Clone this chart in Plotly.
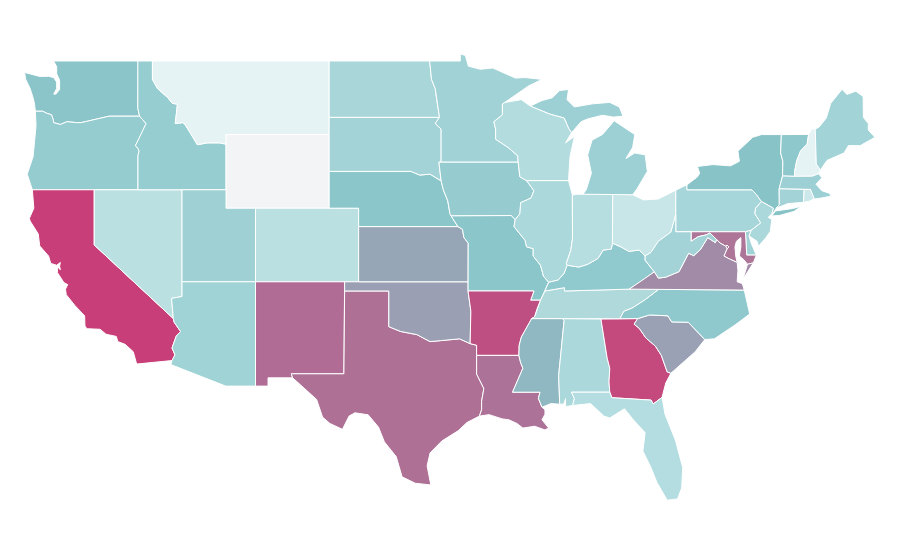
import plotly.graph_objects as go

# no topojson offline, so the state outlines are kept here as (lon, lat) lists
WA = [(-117.03,49),(-122.76,49),(-122.55,48.7),(-122.55,48.3),(-122.35,47.95),(-122.35,47.45),(-122.6,47.2),(-122.75,47.2),(-122.55,47.5),(-122.55,47.85),(-122.75,48.1),(-123.1,48.17),(-123.7,48.16),(-124.1,48.23),(-124.73,48.38),(-124.65,48),(-124.35,47.5),(-124.15,47),(-124.05,46.65),(-124,46.27),(-123.5,46.27),(-123.2,46.15),(-122.9,46.08),(-122.8,45.85),(-122.75,45.65),(-122.3,45.55),(-121.85,45.7),(-121.2,45.65),(-120.9,45.65),(-120.5,45.72),(-119.95,45.82),(-119.3,45.93),(-119,46),(-116.92,46),(-117.04,46.42)]
OR = [(-124,46.27),(-123.5,46.27),(-123.2,46.15),(-122.9,46.08),(-122.8,45.85),(-122.75,45.65),(-122.3,45.55),(-121.85,45.7),(-121.2,45.65),(-120.9,45.65),(-120.5,45.72),(-119.95,45.82),(-119.3,45.93),(-119,46),(-116.92,46),(-116.48,45.6),(-116.85,44.95),(-117.2,44.4),(-117.03,44.25),(-116.95,44.1),(-117.03,43.85),(-117.03,42),(-124.2,42),(-124.4,42.5),(-124.55,42.85),(-124.15,43.8),(-124.07,44.7),(-123.95,45.5)]
CA = [(-124.2,42),(-120,42),(-120,39),(-114.63,35),(-114.57,34.8),(-114.14,34.3),(-114.43,34.05),(-114.72,33.4),(-114.52,33.03),(-114.72,32.72),(-117.12,32.53),(-117.25,32.85),(-117.35,33.2),(-117.9,33.6),(-118.4,33.75),(-118.5,34.03),(-119.2,34.15),(-119.6,34.42),(-120.5,34.45),(-120.63,34.6),(-120.65,35.15),(-121.3,35.7),(-121.9,36.3),(-121.95,36.6),(-121.8,36.85),(-122.05,36.95),(-122.5,37.5),(-122.5,37.82),(-122.3,37.65),(-122.35,37.85),(-122.3,38.05),(-122.55,37.9),(-122.95,38),(-123.1,38.4),(-123.7,38.95),(-123.8,39.6),(-124.35,40.3),(-124.4,40.45),(-124.1,41)]
NV = [(-120,42),(-114.04,42),(-114.04,36.2),(-114.75,36.1),(-114.63,35),(-120,39)]
ID = [(-117.04,49),(-116.05,49),(-116.05,48),(-115.7,47.5),(-115,47),(-114.7,46.7),(-114.35,46.65),(-114.5,45.6),(-114,45.65),(-113.8,45.5),(-113.45,45.05),(-113,44.45),(-112.3,44.55),(-111.5,44.55),(-111.05,44.48),(-111.05,42),(-117.03,42),(-117.03,43.85),(-116.95,44.1),(-117.03,44.25),(-117.2,44.4),(-116.85,44.95),(-116.48,45.6),(-116.92,46),(-117.04,46.42)]
MT = [(-116.05,49),(-104.05,49),(-104.05,45),(-111.05,45),(-111.05,44.48),(-111.5,44.55),(-112.3,44.55),(-113,44.45),(-113.45,45.05),(-113.8,45.5),(-114,45.65),(-114.5,45.6),(-114.35,46.65),(-114.7,46.7),(-115,47),(-115.7,47.5),(-116.05,48)]
WY = [(-111.05,45),(-104.05,45),(-104.05,41),(-111.05,41)]
UT = [(-114.04,42),(-111.05,42),(-111.05,41),(-109.05,41),(-109.05,37),(-114.04,37)]
CO = [(-109.05,41),(-102.05,41),(-102.05,37),(-109.05,37)]
AZ = [(-114.04,37),(-109.05,37),(-109.05,31.33),(-111.07,31.33),(-114.8,32.5),(-114.72,32.72),(-114.52,33.03),(-114.72,33.4),(-114.43,34.05),(-114.14,34.3),(-114.57,34.8),(-114.63,35),(-114.75,36.1),(-114.04,36.2)]
NM = [(-109.05,37),(-103,37),(-103.05,32),(-106.62,32),(-106.53,31.78),(-108.2,31.78),(-108.2,31.33),(-109.05,31.33)]
TX = [(-103,36.5),(-100,36.5),(-100,34.56),(-99.2,34.3),(-98.1,34.13),(-97.2,33.75),(-96.5,33.8),(-95.2,33.9),(-94.48,33.64),(-94.04,33.55),(-94.04,33),(-94.04,31.99),(-93.55,31.2),(-93.7,30.5),(-93.7,30.05),(-93.85,29.7),(-94.7,29.35),(-95.3,28.9),(-96.4,28.35),(-97.2,27.7),(-97.4,27),(-97.15,25.96),(-98.2,26.05),(-99.1,26.4),(-99.5,27.5),(-100.3,28.3),(-100.7,29.1),(-101.4,29.77),(-102.3,29.88),(-102.7,29.7),(-103.15,28.98),(-104,29.3),(-104.5,29.65),(-104.9,30.6),(-106,31.4),(-106.53,31.78),(-106.62,32),(-103.05,32)]
OK = [(-103,37),(-94.62,37),(-94.62,36.5),(-94.43,35.4),(-94.48,33.64),(-95.2,33.9),(-96.5,33.8),(-97.2,33.75),(-98.1,34.13),(-99.2,34.3),(-100,34.56),(-100,36.5),(-103,36.5)]
KS = [(-102.05,40),(-95.31,40),(-95,39.85),(-94.9,39.4),(-94.61,39.1),(-94.62,37),(-102.05,37)]
NE = [(-104.05,43),(-98.5,43),(-97.9,42.8),(-97.2,42.85),(-96.7,42.6),(-96.45,42.49),(-96.3,42),(-96,41.4),(-95.85,40.7),(-95.77,40.58),(-95.31,40),(-102.05,40),(-102.05,41),(-104.05,41)]
SD = [(-104.05,45.94),(-96.56,45.94),(-96.85,45.6),(-96.45,45.3),(-96.45,43.5),(-96.6,43.5),(-96.45,42.49),(-96.7,42.6),(-97.2,42.85),(-97.9,42.8),(-98.5,43),(-104.05,43)]
ND = [(-104.05,49),(-97.23,49),(-97.1,48),(-96.85,47.5),(-96.75,46.9),(-96.56,45.94),(-104.05,45.94)]
MN = [(-97.23,49),(-95.15,49),(-95.15,49.38),(-94.8,49.3),(-94.6,48.72),(-93.8,48.55),(-92.95,48.62),(-92,48.3),(-91.4,48.07),(-90.75,48.1),(-89.6,48),(-90.5,47.65),(-91.5,47.1),(-92.1,46.75),(-92.29,46.66),(-92.29,46.07),(-92.87,45.7),(-92.75,45.3),(-92.75,44.75),(-91.9,44.3),(-91.25,43.85),(-91.22,43.5),(-96.45,43.5),(-96.45,45.3),(-96.85,45.6),(-96.56,45.94),(-96.75,46.9),(-96.85,47.5),(-97.1,48)]
IA = [(-96.45,43.5),(-91.22,43.5),(-91.1,42.7),(-90.65,42.5),(-90.15,41.95),(-90.35,41.55),(-91.05,41.3),(-91.1,40.7),(-91.42,40.38),(-91.7,40.6),(-95.77,40.58),(-95.85,40.7),(-96,41.4),(-96.3,42),(-96.45,42.49),(-96.6,43.5)]
MO = [(-95.77,40.58),(-91.7,40.6),(-91.42,40.38),(-91.5,40),(-90.75,39.25),(-90.65,38.9),(-90.2,38.8),(-90.2,38.4),(-89.7,37.9),(-89.5,37.3),(-89.15,36.98),(-89.4,36.5),(-89.7,36),(-90.37,36),(-90.15,36.5),(-94.62,36.5),(-94.62,37),(-94.61,39.1),(-94.9,39.4),(-95,39.85),(-95.31,40)]
AR = [(-94.62,36.5),(-90.15,36.5),(-90.37,36),(-89.7,36),(-89.95,35.5),(-90.1,35.1),(-90.3,35),(-90.6,34.6),(-91,34),(-91.15,33.55),(-91.17,33),(-94.04,33),(-94.04,33.55),(-94.48,33.64),(-94.43,35.4)]
LA = [(-94.04,33),(-91.17,33),(-91.05,32.6),(-90.9,32.3),(-91.6,31),(-89.73,31),(-89.85,30.67),(-89.6,30.18),(-89.4,30.05),(-89.4,29.8),(-89.6,29.5),(-89.15,29.05),(-89.4,28.95),(-90.1,29.15),(-90.9,29.05),(-91.3,29.3),(-91.85,29.5),(-92.3,29.55),(-93.2,29.78),(-93.85,29.7),(-93.7,30.05),(-93.7,30.5),(-93.55,31.2),(-94.04,31.99)]
MS = [(-90.3,35),(-88.2,35),(-88.1,34.9),(-88.47,31.9),(-88.4,30.35),(-89,30.38),(-89.6,30.18),(-89.85,30.67),(-89.73,31),(-91.6,31),(-90.9,32.3),(-91.05,32.6),(-91.17,33),(-91.15,33.55),(-91,34),(-90.6,34.6)]
AL = [(-88.2,35),(-85.6,34.98),(-85.18,32.87),(-85,32.3),(-85.05,31.55),(-85,31),(-87.6,31),(-87.4,30.65),(-87.52,30.28),(-88,30.22),(-88,30.65),(-88.13,30.35),(-88.4,30.35),(-88.47,31.9),(-88.1,34.9)]
GA = [(-85.6,34.98),(-83.1,35),(-83.35,34.7),(-83,34.47),(-82.55,33.95),(-81.9,33.5),(-81.5,33),(-81.1,32.1),(-80.85,32.03),(-81.2,31.5),(-81.45,30.72),(-82.05,30.36),(-82.2,30.57),(-84.86,30.7),(-85,31),(-85.05,31.55),(-85,32.3),(-85.18,32.87)]
FL = [(-87.6,31),(-85,31),(-84.86,30.7),(-82.2,30.57),(-82.05,30.36),(-81.45,30.72),(-81.25,29.8),(-80.55,28.4),(-80.05,26.9),(-80.12,25.8),(-80.4,25.2),(-81.1,25.13),(-81.8,26.1),(-82.2,26.9),(-82.75,27.8),(-82.6,28.8),(-83.4,29.5),(-84,30.1),(-85,29.6),(-85.4,29.7),(-86.3,30.38),(-87.52,30.28),(-87.4,30.65)]
SC = [(-83.1,35),(-82.3,35.2),(-81.05,35.15),(-80.8,34.82),(-79.67,34.8),(-78.55,33.86),(-79.2,33.2),(-79.9,32.7),(-80.85,32.03),(-81.1,32.1),(-81.5,33),(-81.9,33.5),(-82.55,33.95),(-83,34.47),(-83.35,34.7)]
NC = [(-81.68,36.59),(-75.87,36.55),(-75.5,35.25),(-76.5,34.65),(-77.9,33.9),(-78.55,33.86),(-79.67,34.8),(-80.8,34.82),(-81.05,35.15),(-82.3,35.2),(-83.1,35),(-84.32,34.99),(-84.05,35.4),(-83.5,35.57),(-82.6,36.03)]
TN = [(-90.3,35),(-88.2,35),(-85.6,34.98),(-84.32,34.99),(-84.05,35.4),(-83.5,35.57),(-82.6,36.03),(-81.68,36.59),(-83.68,36.6),(-88.07,36.5),(-88.07,36.68),(-89.4,36.5),(-89.7,36),(-89.95,35.5),(-90.1,35.1)]
KY = [(-89.4,36.5),(-88.07,36.68),(-88.07,36.5),(-83.68,36.6),(-83.1,36.9),(-81.97,37.54),(-82.6,38.17),(-82.6,38.4),(-83,38.73),(-83.7,38.65),(-84.25,38.9),(-84.82,39.1),(-84.9,38.78),(-85.45,38.72),(-85.8,38.27),(-86.5,37.95),(-87.1,37.8),(-87.9,37.9),(-88.1,37.47),(-88.5,37.1),(-89.15,36.98)]
IL = [(-90.65,42.5),(-87.8,42.5),(-87.55,41.75),(-87.53,39.35),(-87.65,38.7),(-87.95,38),(-87.9,37.9),(-88.1,37.47),(-88.5,37.1),(-89.15,36.98),(-89.5,37.3),(-89.7,37.9),(-90.2,38.4),(-90.2,38.8),(-90.65,38.9),(-90.75,39.25),(-91.5,40),(-91.42,40.38),(-91.1,40.7),(-91.05,41.3),(-90.35,41.55),(-90.15,41.95)]
IN = [(-87.53,41.72),(-87.2,41.76),(-86.82,41.76),(-84.8,41.76),(-84.82,39.1),(-84.9,38.78),(-85.45,38.72),(-85.8,38.27),(-86.5,37.95),(-87.1,37.8),(-87.9,37.9),(-87.95,38),(-87.65,38.7),(-87.53,39.35)]
OH = [(-84.8,41.76),(-83.45,41.73),(-82.7,41.45),(-81.7,41.5),(-80.52,41.98),(-80.52,40.64),(-80.85,39.7),(-81.7,39.2),(-82.2,38.6),(-82.6,38.4),(-83,38.73),(-83.7,38.65),(-84.25,38.9),(-84.82,39.1)]
MI_LOWER = [(-86.82,41.76),(-84.8,41.76),(-83.45,41.73),(-83.15,42.05),(-82.45,43),(-82.6,43.9),(-83.3,44),(-83.9,43.7),(-83.45,44.3),(-83.3,45),(-84.7,45.75),(-85.5,45),(-86.2,44.7),(-86.5,43.9),(-86.25,42.9),(-86.6,42)]
MI_UPPER = [(-90.4,46.55),(-89.1,46.12),(-88.1,45.9),(-87.8,45.35),(-87.6,45.1),(-86.95,45.7),(-86.5,45.85),(-85.5,46.05),(-84.75,45.95),(-84.1,46),(-84.35,46.5),(-85,46.75),(-86.2,46.67),(-87.4,46.5),(-87.9,46.9),(-87.8,47.45),(-88.4,47.4),(-88.9,47),(-89.6,46.85)]
WI = [(-92.29,46.66),(-92.1,46.75),(-91,46.9),(-90.4,46.55),(-89.1,46.12),(-88.1,45.9),(-87.8,45.35),(-87.6,45.1),(-88,44.55),(-87.4,44.9),(-87.7,43.8),(-87.8,42.5),(-90.65,42.5),(-91.1,42.7),(-91.22,43.5),(-91.25,43.85),(-91.9,44.3),(-92.75,44.75),(-92.75,45.3),(-92.87,45.7),(-92.29,46.07)]
PA = [(-80.52,41.98),(-79.76,42.27),(-79.76,42),(-75.35,42),(-75.05,41.75),(-74.7,41.36),(-75.1,41),(-75.15,40.7),(-74.75,40.2),(-75.4,39.8),(-75.79,39.72),(-80.52,39.72)]
NY_MAIN = [(-79.76,42.27),(-79.05,42.7),(-78.9,42.9),(-79.05,43.27),(-78,43.37),(-76.8,43.3),(-76.2,43.55),(-76.3,44.1),(-75.3,44.85),(-74.7,45),(-73.35,45),(-73.4,44),(-73.25,43.55),(-73.27,42.75),(-73.5,42.05),(-73.49,41.2),(-73.7,41),(-73.9,40.75),(-74,40.7),(-73.9,41),(-74.7,41.36),(-75.05,41.75),(-75.35,42),(-79.76,42)]
NY_LONG_ISLAND = [(-74,40.58),(-73.75,40.85),(-72.6,40.98),(-72,41.1),(-72.5,40.82),(-73.5,40.6)]
NJ = [(-74.7,41.36),(-73.9,41),(-74,40.7),(-74.25,40.5),(-74,40.4),(-74.1,39.75),(-74.4,39.4),(-74.9,38.93),(-75,39.2),(-75.55,39.5),(-75.4,39.8),(-74.75,40.2),(-75.15,40.7),(-75.1,41)]
DE = [(-75.79,39.72),(-75.4,39.8),(-75.55,39.5),(-75.4,39.1),(-75.05,38.45),(-75.7,38.45)]
MD = [(-79.48,39.72),(-75.79,39.72),(-75.7,38.45),(-75.05,38.45),(-75.25,38.03),(-75.65,37.95),(-75.9,38.2),(-76.2,38.4),(-76.1,38.9),(-76.1,39.4),(-76.4,39.2),(-76.5,38.9),(-76.45,38.4),(-76.35,38.05),(-76.9,38.25),(-77.25,38.4),(-77.04,38.79),(-77.12,38.93),(-77.5,39.1),(-77.75,39.3),(-78.2,39.65),(-78.45,39.55),(-79,39.45),(-79.48,39.2)]
DC = [(-77.12,38.93),(-77.04,39),(-76.91,38.89),(-77.04,38.79)]
VA_MAIN = [(-83.68,36.6),(-81.68,36.59),(-75.87,36.55),(-76,36.9),(-76.35,37),(-76.3,37.6),(-76.35,38.05),(-76.9,38.25),(-77.25,38.4),(-77.04,38.79),(-77.12,38.93),(-77.5,39.1),(-77.75,39.3),(-77.83,39.13),(-78.35,39.4),(-78.85,38.75),(-79.3,38.42),(-79.65,38.55),(-80.3,37.55),(-81.2,37.25),(-81.7,37.2),(-81.97,37.54),(-83.1,36.9)]
VA_SHORE = [(-75.65,37.95),(-75.25,38.03),(-75.95,37.15)]
WV = [(-80.52,40.64),(-80.52,39.72),(-79.48,39.72),(-79.48,39.2),(-79,39.45),(-78.45,39.55),(-78.2,39.65),(-77.75,39.3),(-77.83,39.13),(-78.35,39.4),(-78.85,38.75),(-79.3,38.42),(-79.65,38.55),(-80.3,37.55),(-81.2,37.25),(-81.7,37.2),(-81.97,37.54),(-82.6,38.17),(-82.6,38.4),(-82.2,38.6),(-81.7,39.2),(-80.85,39.7)]
VT = [(-73.35,45),(-71.5,45.01),(-71.6,44.5),(-72.05,44.1),(-72.3,43.6),(-72.45,43),(-72.46,42.73),(-73.27,42.75),(-73.25,43.55),(-73.4,44)]
NH = [(-71.5,45.01),(-71.3,45.3),(-71.05,45.3),(-70.98,43.4),(-70.7,43.08),(-70.82,42.87),(-71.25,42.74),(-72.46,42.73),(-72.45,43),(-72.3,43.6),(-72.05,44.1),(-71.6,44.5)]
ME = [(-71.05,45.3),(-70.8,45.4),(-70.3,45.9),(-70,46.7),(-69.23,47.46),(-68.9,47.18),(-68.3,47.36),(-67.8,47.07),(-67.78,45.93),(-67.45,45.6),(-67.45,45.25),(-67,44.85),(-68,44.4),(-68.8,44.4),(-69.1,44),(-69.8,43.75),(-70.25,43.6),(-70.7,43.08),(-70.98,43.4)]
MA = [(-73.5,42.05),(-73.27,42.75),(-72.46,42.73),(-71.25,42.74),(-70.82,42.87),(-70.6,42.65),(-71,42.3),(-70.6,41.95),(-70.05,41.8),(-70,41.65),(-70.65,41.55),(-71.12,41.5),(-71.38,42.02),(-71.8,42.02)]
CT = [(-73.5,42.05),(-71.8,42.02),(-71.85,41.32),(-72.9,41.25),(-73.7,41),(-73.49,41.2)]
RI = [(-71.8,42.02),(-71.38,42.02),(-71.12,41.5),(-71.5,41.37),(-71.85,41.32)]

state_names = ["WA","OR","CA","NV","ID","MT","WY","UT","CO","AZ","NM","TX","OK","KS","NE","SD","ND","MN","IA","MO",
               "AR","LA","MS","AL","GA","FL","SC","NC","TN","KY","IL","IN","OH","MI","WI","PA","NY","NJ","DE","MD",
               "DC","VA","WV","VT","NH","ME","MA","CT","RI"]
state_shapes = [[WA],[OR],[CA],[NV],[ID],[MT],[WY],[UT],[CO],[AZ],[NM],[TX],[OK],[KS],[NE],[SD],[ND],[MN],[IA],[MO],
                [AR],[LA],[MS],[AL],[GA],[FL],[SC],[NC],[TN],[KY],[IL],[IN],[OH],[MI_LOWER,MI_UPPER],[WI],[PA],[NY_MAIN,NY_LONG_ISLAND],[NJ],[DE],[MD],
                [DC],[VA_MAIN,VA_SHORE],[WV],[VT],[NH],[ME],[MA],[CT],[RI]]
state_colors = ["#8bc5c9","#95ccd0","#c83e78","#bbe0e1","#95cdd0","#e6f3f5","#f3f4f6","#9fd1d4","#bbe0e1","#a0d3d6","#b06c94","#af7096","#9a9fb3","#97a6b6","#8bc7ca","#a3d3d7","#a8d6d9","#a0d2d6","#96ccd0","#8bc6ca",
                "#be4f82","#ad7298","#90b8c3","#aad8db","#c44a7e","#b3dde0","#9aa1b5","#8fc9ce","#b0d9dc","#90cacf","#aad8db","#b6dde0","#c8e6e8","#9dd0d4","#b3dcdf","#a6d6d9","#88c3c8","#aad8db","#a0d2d6","#ad7698",
                "#ad7698","#a28ba7","#a3d3d7","#8fc8cc","#e6f3f5","#a2d3d7","#9dd0d4","#a3d3d7","#cde8ea"]


def shape_xy(parts):
    xs, ys = [], []
    for part in parts:
        closed = part + part[:1]
        xs += [p[0] for p in closed] + [None]
        ys += [p[1] for p in closed] + [None]
    return xs, ys


fig = go.Figure()
for name, parts, color in zip(state_names, state_shapes, state_colors):
    xs, ys = shape_xy(parts)
    fig.add_trace(go.Scatter(x=xs, y=ys, name=name, mode="lines", fill="toself", fillcolor=color,
                             line=dict(color="white", width=1), hoverinfo="name"))

# plate carree look: 14.73 px per degree lon, 18.4 px per degree lat
# the page body has an 8px margin, so the plot is 884x544 and starts at (8, 8)
fig.update_xaxes(visible=False, range=[-125.854, -65.84])
fig.update_yaxes(visible=False, range=[22.315, 51.88])
fig.update_layout(width=884, height=544, margin=dict(l=0, r=0, t=0, b=0), showlegend=False,
                  paper_bgcolor="white", plot_bgcolor="white")
fig.write_html("out.html")
